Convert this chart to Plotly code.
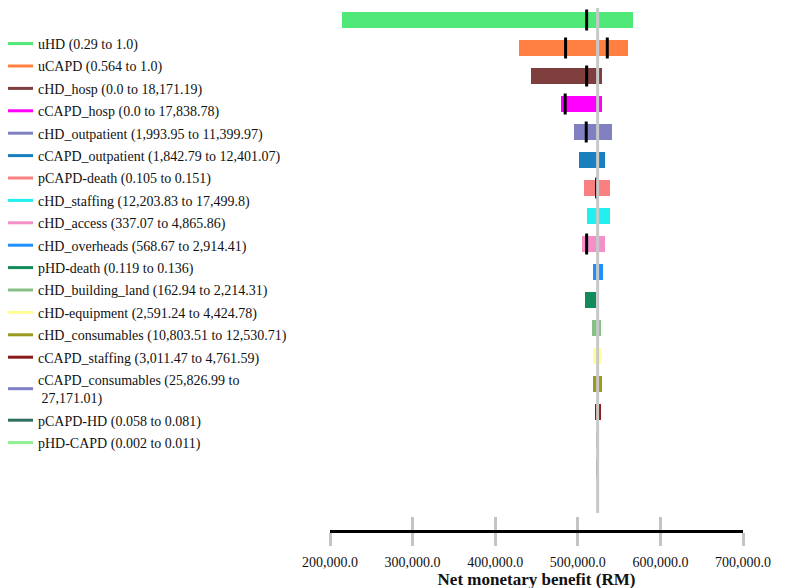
import plotly.graph_objects as go

# ---------------- data ----------------
params = ["uHD", "uCAPD", "cHD_hosp", "cCAPD_hosp", "cHD_outpatient", "cCAPD_outpatient",
          "pCAPD-death", "cHD_staffing", "cHD_access", "cHD_overheads", "pHD-death",
          "cHD_building_land", "cHD-equipment", "cHD_consumables", "cCAPD_staffing",
          "cCAPD_consumables", "pCAPD-HD", "pHD-CAPD"]
param_ranges = ["0.29 to 1.0", "0.564 to 1.0", "0.0 to 18,171.19", "0.0 to 17,838.78",
                "1,993.95 to 11,399.97", "1,842.79 to 12,401.07", "0.105 to 0.151",
                "12,203.83 to 17,499.8", "337.07 to 4,865.86", "568.67 to 2,914.41",
                "0.119 to 0.136", "162.94 to 2,214.31", "2,591.24 to 4,424.78",
                "10,803.51 to 12,530.71", "3,011.47 to 4,761.59",
                "25,826.99 to<br> 27,171.01", "0.058 to 0.081", "0.002 to 0.011"]
nmb_low = [214600, 428900, 443900, 479500, 495300, 501700, 507800, 510700, 505000,
           518000, 509000, 516700, 518700, 518700, 520500, 521800, 522800, 523300]
nmb_high = [567000, 560400, 528900, 528900, 541400, 533000, 539000, 539000, 533000,
            530000, 522000, 528000, 528000, 529200, 527500, 526200, 525200, 524800]
threshold_rows = ["uHD", "uCAPD", "uCAPD", "cHD_hosp", "cCAPD_hosp", "cHD_outpatient",
                  "pCAPD-death", "cHD_access"]
threshold_vals = [510700, 485200, 535700, 510700, 484700, 510200, 522800, 510700]
base_nmb = 524000
colors = ["#50e878", "#ff8040", "#7f3f3f", "#ff00ff", "#8080c0", "#1a7fbf", "#f88080",
          "#22f0f0", "#f490c9", "#1e90ff", "#138a5a", "#86c086", "#ffff99", "#9a9a20",
          "#8b1a1a", "#8080c8", "#2e6e5e", "#90ee90"]
x_ticks = [200000, 300000, 400000, 500000, 600000, 700000]

serif = "Liberation Serif, Times New Roman, serif"
row_idx = {p: i for i, p in enumerate(params)}

fig = go.Figure()
fig.add_trace(go.Bar(
    orientation="h",
    y=list(range(len(params))),
    base=nmb_low,
    x=[h - l for l, h in zip(nmb_low, nmb_high)],
    marker=dict(color=colors, line=dict(width=0)),
    width=0.54,
    showlegend=False,
    hoverinfo="skip",
))
fig.add_trace(go.Scatter(
    x=threshold_vals,
    y=[row_idx[r] for r in threshold_rows],
    mode="markers",
    marker=dict(symbol="line-ns", size=15, line=dict(width=3, color="black")),
    showlegend=False, hoverinfo="skip",
))
# legend entries
for p, r, c in zip(params, param_ranges, colors):
    fig.add_trace(go.Scatter(x=[None], y=[None], mode="lines",
                             line=dict(color=c, width=3),
                             name=f"{p} ({r})", legendgroup=p))

# invisible helper trace for the inside-ticks axis
fig.add_trace(go.Scatter(x=[None], y=[None], xaxis="x2", showlegend=False))

fig.add_shape(type="line", xref="x", yref="y", x0=base_nmb, x1=base_nmb,
              y0=-0.4286, y1=17.607, line=dict(color="#c8c8c8", width=3), layer="above")

fig.update_layout(
    width=800, height=588,
    margin=dict(l=322, r=65, t=0, b=66, autoexpand=False),
    plot_bgcolor="white", paper_bgcolor="white",
    font=dict(family=serif, color="#111"),
    bargap=0,
    xaxis=dict(range=[200000, 700000], tickvals=x_ticks, tickformat=",.1f",
               showgrid=False, zeroline=False, showline=True, linecolor="black",
               linewidth=3, ticks="outside", ticklen=13, tickwidth=3, tickcolor="#c4c4c4",
               tickfont=dict(size=14, family=serif, color="#111"),
               ticklabelstandoff=4, automargin=False,
               title=dict(text="<b>Net monetary benefit (RM)</b>", standoff=0,
                          font=dict(size=17, family=serif, color="#111"))),
    xaxis2=dict(range=[200000, 700000], tickvals=x_ticks, overlaying="x", side="bottom",
                anchor="y", showgrid=False, zeroline=False, showline=False,
                ticks="inside", ticklen=13, tickwidth=3, tickcolor="#c4c4c4",
                showticklabels=False, automargin=False),
    yaxis=dict(range=[18.214, -0.4286], showgrid=False, zeroline=False, showline=False,
               showticklabels=False, ticks="", automargin=False),
    legend=dict(x=-0.8039, xanchor="left", y=0.9617, yanchor="top",
                font=dict(size=14, family=serif, color="#111"),
                bgcolor="rgba(0,0,0,0)", traceorder="grouped", tracegroupgap=1.2,
                itemwidth=30, maxheight=1),
    showlegend=True,
)

fig.write_html("out.html")
